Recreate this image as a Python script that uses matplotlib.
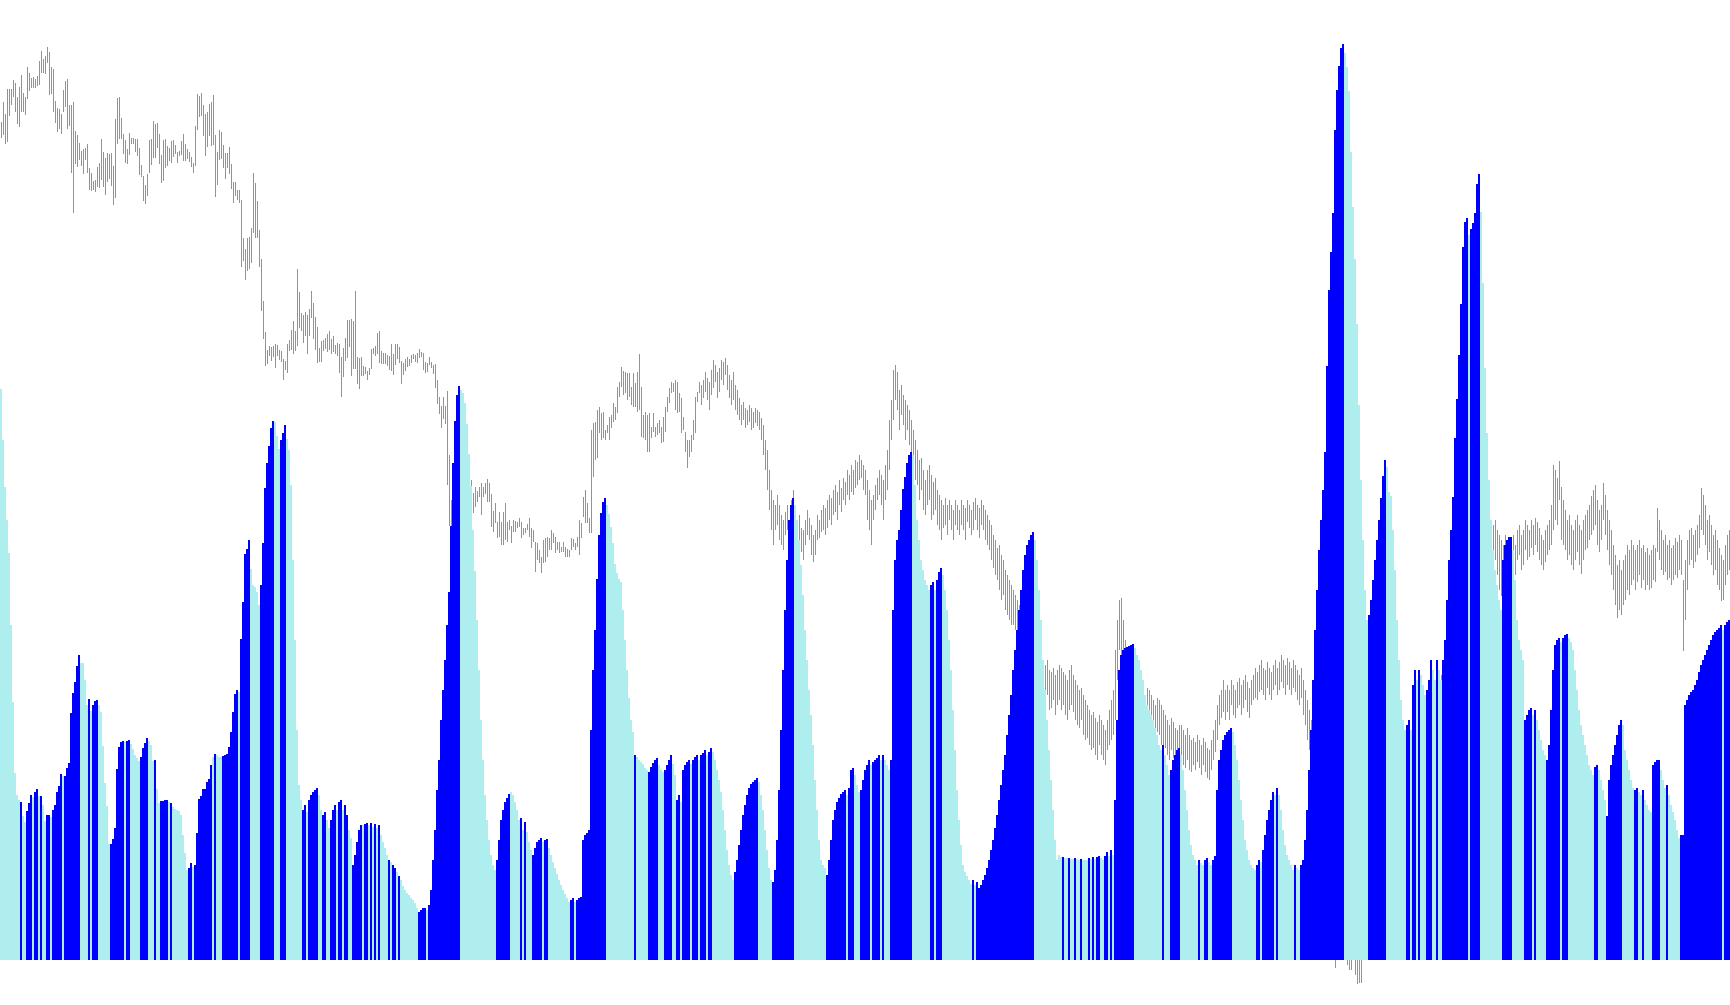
import numpy as np
import matplotlib
matplotlib.use("Agg")
import matplotlib.pyplot as plt

# histogram heights (one per bar, 865 bars)
hist_h = [
    571, 520, 473, 440, 407, 335, 258, 187, 165, 160, 158, 144, 138, 149, 157, 165, 163, 168, 171, 164,
    164, 155, 139, 145, 145, 143, 150, 155, 168, 174, 186, 184, 184, 192, 197, 247, 267, 278, 294, 305,
    297, 297, 280, 255, 261, 249, 255, 259, 260, 255, 248, 214, 177, 154, 116, 116, 121, 132, 191, 213,
    218, 219, 218, 219, 220, 216, 211, 205, 202, 199, 203, 212, 217, 222, 219, 215, 199, 200, 171, 157,
    159, 159, 160, 160, 158, 157, 153, 151, 150, 149, 145, 125, 107, 90, 92, 97, 93, 95, 127, 161,
    164, 171, 171, 178, 181, 195, 203, 206, 205, 203, 203, 204, 205, 206, 213, 228, 248, 266, 270, 268,
    321, 358, 406, 411, 420, 391, 375, 373, 368, 355, 375, 417, 472, 497, 514, 532, 539, 538, 524, 511,
    520, 527, 535, 521, 510, 475, 400, 320, 230, 175, 160, 150, 155, 148, 160, 165, 168, 170, 172, 165,
    150, 145, 148, 140, 132, 140, 150, 155, 150, 158, 160, 150, 155, 145, 130, 122, 95, 105, 118, 130,
    135, 135, 136, 137, 135, 137, 133, 136, 132, 135, 125, 118, 112, 105, 100, 98, 95, 92, 88, 84,
    80, 74, 70, 67, 65, 62, 60, 57, 52, 48, 50, 52, 52, 50, 55, 70, 100, 130, 170, 200,
    240, 270, 300, 335, 368, 434, 497, 539, 565, 574, 570, 567, 557, 536, 506, 474, 430, 389, 340, 290,
    240, 200, 165, 140, 120, 105, 95, 90, 100, 120, 140, 150, 158, 162, 166, 168, 165, 158, 150, 140,
    142, 130, 138, 128, 118, 110, 105, 112, 118, 120, 122, 118, 120, 121, 112, 105, 98, 92, 86, 80,
    75, 70, 66, 62, 58, 60, 62, 58, 60, 62, 63, 120, 125, 127, 130, 230, 290, 330, 381, 425,
    447, 458, 462, 455, 446, 433, 417, 396, 387, 381, 378, 350, 320, 290, 262, 240, 228, 205, 203, 200,
    198, 196, 192, 190, 188, 193, 197, 200, 202, 195, 190, 188, 190, 195, 200, 205, 196, 185, 160, 165,
    158, 190, 195, 198, 200, 196, 200, 203, 205, 200, 205, 207, 210, 205, 208, 212, 208, 200, 190, 180,
    168, 150, 130, 110, 95, 85, 80, 88, 100, 115, 130, 145, 155, 165, 172, 176, 178, 180, 182, 178,
    165, 150, 130, 110, 92, 80, 78, 90, 120, 170, 230, 290, 350, 400, 440, 455, 462, 455, 440, 420,
    395, 365, 330, 300, 270, 245, 215, 180, 150, 120, 100, 95, 92, 85, 100, 120, 140, 150, 158, 162,
    166, 168, 170, 165, 172, 190, 192, 185, 175, 168, 170, 180, 190, 195, 200, 195, 198, 200, 202, 205,
    200, 205, 200, 195, 190, 200, 350, 400, 420, 430, 450, 471, 483, 497, 505, 508, 505, 475, 440, 420,
    400, 390, 380, 375, 370, 375, 378, 370, 380, 388, 392, 385, 370, 350, 320, 290, 250, 210, 170, 140,
    115, 95, 88, 84, 80, 76, 80, 75, 78, 72, 75, 80, 85, 92, 100, 110, 120, 132, 145, 160,
    175, 190, 205, 225, 245, 265, 290, 310, 330, 350, 370, 390, 405, 415, 420, 425, 428, 420, 400, 370,
    340, 300, 270, 240, 210, 180, 150, 120, 100, 105, 103, 103, 102, 102, 102, 101, 101, 102, 101, 100,
    101, 100, 100, 100, 102, 101, 103, 101, 103, 104, 102, 100, 104, 108, 104, 110, 105, 160, 240, 290,
    305, 310, 312, 313, 314, 315, 316, 312, 305, 300, 290, 280, 265, 255, 250, 245, 240, 232, 225, 215,
    210, 215, 205, 195, 185, 190, 200, 205, 210, 212, 205, 190, 170, 150, 130, 115, 105, 100, 95, 100,
    97, 95, 100, 102, 98, 95, 100, 104, 170, 200, 210, 220, 225, 228, 230, 232, 228, 215, 200, 180,
    160, 140, 120, 110, 100, 95, 92, 90, 95, 100, 98, 110, 125, 140, 150, 160, 168, 165, 172, 165,
    150, 130, 115, 105, 100, 95, 90, 95, 92, 90, 95, 100, 120, 150, 190, 230, 280, 330, 370, 410,
    440, 470, 508, 594, 670, 708, 747, 830, 870, 894, 912, 916, 907, 893, 869, 808, 753, 701, 636, 555,
    480, 420, 370, 340, 345, 360, 380, 400, 420, 440, 462, 484, 500, 493, 468, 464, 430, 390, 340, 300,
    260, 240, 230, 235, 240, 230, 275, 290, 280, 290, 285, 275, 265, 270, 280, 300, 290, 280, 300, 290,
    280, 300, 320, 360, 400, 430, 463, 522, 561, 605, 656, 713, 738, 742, 725, 731, 737, 747, 776, 786,
    748, 677, 592, 527, 480, 440, 410, 390, 375, 360, 350, 400, 415, 420, 423, 423, 410, 380, 340, 320,
    310, 300, 240, 245, 250, 252, 245, 250, 240, 230, 220, 210, 205, 200, 215, 250, 290, 315, 320, 322,
    318, 322, 325, 326, 322, 318, 310, 290, 270, 250, 235, 225, 215, 205, 195, 190, 185, 193, 195, 190,
    180, 170, 160, 144, 180, 195, 205, 215, 225, 235, 240, 235, 210, 200, 190, 180, 172, 170, 172, 168,
    165, 170, 160, 155, 150, 148, 195, 198, 200, 200, 190, 180, 172, 175, 165, 155, 148, 140, 130, 122,
    125, 125, 255, 260, 265, 268, 270, 275, 280, 288, 295, 300, 305, 310, 315, 320, 325, 328, 330, 332,
    335, 330, 335, 338, 340,
]

# B = rising (blue), L = falling (pale turquoise)
hist_dir = (
    "LLLLLLLLLL" "BLLBBBLBBL" "BLLBBLBBBB" "BLBBBBBBBB" "LLLLBLBBBL"
    "LLLLLBBBBB" "BBLBBLLLLL" "BBBBLLLBLL" "BBBBLBLLLL" "LLLLBBLBBB"
    "BBBBBBLBLL" "LBBBBBBBBL" "BBBBBLLLLL" "BBBBBBBLLL" "BBBLLLLLLL"
    "LBBLBBBBBL" "LBBLLBBBLB" "BLBBLLBBBB" "BLBBLBLBLB" "LLLLBLBBLB"
    "LLLLLLLLLB" "BBBLBBBBBB" "BBBBBBBBBB" "LLLLLLLLLL" "LLLLLLLLBB"
    "BBBBBLLLLL" "BLBLLLBBBB" "BLBBLLLLLL" "LLLLLBBLBB" "BBBBBBBBBB"
    "BBBLLLLLLL" "LLLLLLLBLL" "LLLLBBBBBL" "LLBBBBLLBB" "LBBBBLBBBL"
    "BBBLBBLLLL" "LLLLLLLBBB" "BBBBBBBBBL" "LLLLLLBBBB" "BBBBBBBLLL"
    "LLLLLLLLLL" "LLLBBBBBBB" "BBBLBBBLLL" "BBBBBLBBBB" "LBLLLBBBBB"
    "BBBBBBLLLL" "LLLLLBBLBB" "BLLLLLLLLL" "LLLLLLBLBB" "BBBBBBBBBB"
    "BBBBBBBBBB" "BBBBBBBLLL" "LLLLLLLLLL" "LBLLBLLBLL" "BLLLBLBLBB"
    "LLBBLBLBBB" "BBBBBBBLLL" "LLLLLLLLLL" "LBLLLBBBBB" "LLLLLLLLLB"
    "LLBBLLBBBB" "BBBBBBLLLL" "LLLLLLLLBB" "LBBBBBBLBL" "LLLLLLLBLL"
    "BBBBBBBBBB" "BBBBBBBBBB" "BBLLLLLLLL" "LLLLBBBBBB" "BBBLLLLLLL"
    "LLLBBLBBLB" "LLLBBBLLBL" "LBBBBBBBBB" "BBBBLBBBBB" "LLLLLLLLLL"
    "LBBBBBLLLL" "LLBBBBLBLL" "LLLBBBBBBB" "LBBBLLLLLL" "LLLLLLLBBL"
    "LLLBBBBBBB" "BLLLLLLBBL" "LBLLLLBBBB" "LLLBLLLLLL" "BBBBBBBBBB"
    "BBBBBBBBBB" "BLBBB"
)

# price bars: top and bottom of each bar (price scale runs downward)
price_top = [
    122, 102, 114, 89, 89, 89, 80, 83, 97, 87, 75, 93, 97, 67, 73, 78, 77, 79, 76, 61,
    51, 59, 56, 47, 52, 67, 69, 101, 108, 109, 114, 90, 81, 79, 105, 105, 102, 131, 135, 143,
    151, 149, 148, 144, 168, 173, 181, 180, 167, 163, 139, 152, 158, 153, 154, 153, 166, 119, 98, 97,
    118, 134, 140, 149, 133, 138, 138, 139, 139, 148, 165, 176, 185, 174, 140, 139, 121, 124, 123, 134,
    155, 140, 139, 146, 148, 141, 140, 145, 152, 151, 141, 134, 144, 149, 152, 157, 163, 126, 94, 96,
    93, 105, 114, 112, 104, 102, 95, 135, 152, 130, 132, 145, 153, 153, 147, 164, 182, 182, 190, 190,
    200, 238, 249, 238, 237, 228, 173, 183, 201, 230, 259, 301, 332, 350, 346, 347, 346, 344, 345, 350,
    351, 359, 361, 344, 340, 330, 321, 331, 269, 292, 313, 315, 312, 315, 309, 291, 303, 317, 327, 348,
    341, 340, 338, 334, 331, 339, 336, 345, 343, 344, 357, 348, 338, 320, 320, 319, 321, 291, 357, 358,
    357, 366, 367, 371, 368, 349, 348, 346, 333, 331, 351, 353, 353, 355, 356, 344, 354, 344, 344, 347,
    361, 363, 359, 357, 359, 355, 354, 355, 353, 349, 352, 353, 362, 363, 357, 362, 365, 364, 380, 397,
    406, 397, 406, 391, 455, 500, 480, 470, 480, 470, 460, 465, 470, 475, 470, 480, 493, 487, 491, 487,
    483, 487, 483, 479, 483, 494, 511, 503, 522, 512, 522, 512, 503, 522, 520, 526, 520, 521, 522, 518,
    522, 528, 528, 524, 518, 528, 530, 542, 543, 550, 557, 540, 538, 537, 538, 530, 533, 537, 542, 542,
    547, 542, 547, 549, 550, 538, 539, 543, 537, 520, 523, 497, 490, 503, 518, 430, 423, 422, 410, 407,
    413, 412, 430, 425, 417, 415, 403, 407, 387, 382, 367, 371, 372, 373, 373, 387, 373, 383, 372, 354,
    387, 415, 412, 415, 413, 427, 413, 427, 423, 420, 427, 417, 407, 397, 388, 382, 383, 380, 382, 393,
    398, 417, 432, 440, 440, 435, 420, 397, 392, 382, 385, 380, 372, 378, 382, 370, 360, 365, 372, 368,
    360, 362, 358, 365, 375, 380, 372, 385, 390, 398, 405, 402, 408, 410, 405, 408, 412, 408, 410, 412,
    418, 425, 440, 450, 470, 490, 500, 505, 495, 505, 515, 520, 512, 505, 520, 500, 490, 520, 525, 515,
    528, 530, 520, 510, 518, 525, 535, 530, 515, 520, 510, 505, 508, 500, 495, 498, 490, 485, 492, 480,
    488, 478, 482, 470, 475, 465, 470, 460, 462, 455, 460, 465, 470, 480, 490, 500, 495, 485, 478, 470,
    475, 480, 465, 450, 420, 400, 370, 365, 372, 390, 385, 395, 400, 405, 410, 420, 430, 440, 450, 460,
    458, 470, 480, 470, 465, 475, 482, 478, 490, 495, 500, 505, 498, 505, 500, 505, 510, 500, 505, 510,
    500, 505, 508, 500, 505, 510, 502, 498, 505, 508, 500, 505, 510, 515, 520, 525, 535, 540, 548, 545,
    555, 560, 570, 575, 580, 585, 590, 595, 600, 605, 610, 615, 620, 625, 630, 635, 640, 645, 640, 650,
    655, 660, 665, 660, 670, 672, 668, 675, 670, 665, 668, 672, 675, 680, 670, 665, 675, 680, 685, 690,
    688, 695, 700, 705, 710, 715, 712, 718, 722, 715, 720, 725, 730, 720, 710, 700, 690, 650, 620, 600,
    598, 620, 640, 650, 655, 660, 670, 675, 680, 678, 685, 690, 695, 688, 690, 695, 700, 705, 698, 700,
    705, 710, 715, 720, 725, 718, 722, 728, 730, 725, 725, 730, 735, 728, 735, 740, 738, 742, 735, 740,
    745, 738, 742, 748, 750, 740, 730, 720, 705, 695, 690, 680, 690, 685, 690, 680, 685, 690, 682, 678,
    685, 680, 675, 682, 688, 680, 675, 668, 672, 665, 660, 668, 670, 662, 668, 672, 665, 660, 668, 662,
    655, 660, 665, 658, 662, 668, 660, 665, 670, 675, 668, 680, 690, 700, 710, 720, 735, 745, 760, 780,
    800, 820, 840, 850, 860, 870, 880, 900, 905, 910, 915, 912, 918, 920, 925, 928, 920, 930, 935, 938,
    940, 930, 920, 910, 900, 890, 880, 870, 860, 850, 840, 830, 820, 810, 800, 790, 780, 770, 760, 750,
    740, 735, 730, 735, 738, 740, 730, 725, 720, 715, 712, 710, 705, 700, 695, 690, 688, 685, 680, 678,
    675, 670, 660, 650, 640, 630, 610, 605, 600, 595, 590, 585, 580, 578, 575, 570, 568, 565, 560, 558,
    555, 552, 548, 545, 540, 530, 525, 520, 530, 535, 540, 545, 535, 540, 545, 540, 535, 545, 530, 525,
    535, 530, 520, 525, 530, 520, 525, 518, 522, 528, 535, 540, 530, 525, 520, 505, 465, 470, 478, 461,
    487, 500, 510, 520, 515, 525, 530, 520, 515, 525, 530, 520, 515, 510, 505, 496, 490, 485, 500, 510,
    505, 483, 495, 510, 520, 530, 545, 555, 565, 560, 570, 560, 555, 545, 550, 540, 545, 550, 545, 540,
    548, 545, 552, 548, 555, 550, 545, 548, 508, 520, 530, 540, 535, 545, 540, 548, 545, 538, 542, 535,
    540, 580, 560, 540, 530, 528, 535, 530, 525, 515, 488, 495, 505, 520, 515, 525, 535, 530, 540, 548,
    555, 560, 545, 535, 530,
]

price_bot = [
    138, 135, 144, 142, 116, 105, 97, 112, 124, 127, 112, 112, 115, 99, 91, 88, 88, 88, 86, 85,
    73, 73, 74, 63, 95, 94, 112, 123, 132, 129, 134, 112, 107, 129, 126, 173, 213, 164, 167, 160,
    166, 174, 160, 173, 190, 191, 190, 192, 187, 188, 180, 187, 195, 182, 179, 186, 205, 198, 144, 139,
    139, 154, 163, 164, 155, 144, 144, 152, 156, 175, 177, 201, 204, 196, 173, 165, 158, 158, 148, 164,
    183, 181, 168, 166, 161, 163, 157, 154, 163, 156, 155, 161, 161, 159, 162, 167, 173, 166, 130, 117,
    116, 136, 156, 147, 136, 146, 145, 197, 185, 160, 159, 168, 179, 168, 174, 189, 203, 196, 200, 203,
    267, 261, 280, 271, 269, 263, 233, 238, 238, 267, 311, 339, 366, 364, 356, 361, 357, 368, 356, 360,
    362, 380, 370, 373, 351, 350, 354, 351, 346, 328, 331, 343, 336, 354, 336, 318, 339, 350, 363, 362,
    362, 351, 349, 352, 350, 354, 352, 354, 356, 373, 397, 377, 361, 358, 347, 376, 369, 369, 384, 389,
    376, 376, 374, 380, 375, 369, 354, 356, 354, 363, 364, 364, 364, 366, 370, 371, 375, 365, 359, 363,
    384, 375, 371, 367, 366, 363, 359, 362, 363, 358, 357, 370, 373, 372, 365, 368, 374, 388, 404, 414,
    428, 419, 424, 485, 526, 526, 530, 520, 510, 500, 495, 500, 505, 500, 495, 505, 513, 507, 502, 497,
    515, 497, 494, 502, 502, 527, 532, 523, 538, 537, 545, 545, 540, 542, 530, 543, 532, 532, 528, 527,
    538, 535, 533, 530, 537, 548, 542, 572, 560, 563, 573, 563, 562, 557, 550, 550, 543, 553, 550, 553,
    552, 552, 557, 557, 557, 550, 547, 550, 547, 555, 538, 517, 523, 523, 533, 533, 477, 460, 458, 433,
    440, 438, 440, 433, 440, 428, 422, 420, 413, 397, 387, 395, 393, 400, 397, 405, 407, 407, 412, 410,
    437, 438, 440, 452, 452, 438, 432, 437, 435, 433, 443, 442, 432, 412, 403, 393, 392, 410, 413, 412,
    433, 430, 452, 468, 457, 452, 440, 433, 402, 393, 405, 398, 392, 400, 410, 395, 388, 382, 398, 392,
    380, 385, 375, 390, 398, 405, 400, 410, 415, 420, 425, 420, 428, 425, 422, 430, 428, 423, 426, 430,
    440, 455, 470, 490, 510, 530, 545, 530, 525, 540, 545, 550, 535, 530, 548, 540, 520, 548, 545, 540,
    552, 560, 545, 535, 540, 555, 562, 555, 540, 538, 532, 530, 535, 528, 520, 525, 515, 512, 520, 505,
    512, 500, 505, 495, 500, 492, 495, 488, 485, 480, 478, 490, 495, 520, 530, 545, 520, 510, 500, 495,
    505, 520, 500, 490, 470, 440, 420, 400, 410, 430, 415, 425, 440, 430, 445, 460, 470, 480, 485, 500,
    490, 510, 515, 505, 500, 520, 515, 510, 525, 530, 540, 528, 525, 535, 520, 530, 540, 525, 530, 535,
    525, 530, 540, 522, 528, 535, 530, 520, 530, 538, 525, 530, 540, 545, 550, 560, 568, 575, 580, 590,
    600, 595, 610, 615, 620, 625, 625, 630, 640, 645, 650, 655, 660, 665, 670, 670, 675, 680, 675, 690,
    695, 700, 700, 695, 710, 708, 700, 715, 705, 700, 710, 705, 715, 720, 710, 705, 712, 720, 725, 728,
    720, 735, 740, 738, 745, 750, 748, 755, 760, 745, 755, 760, 765, 750, 745, 740, 735, 720, 680, 650,
    660, 670, 690, 700, 705, 710, 715, 720, 725, 718, 730, 725, 735, 722, 730, 728, 738, 740, 732, 735,
    745, 750, 748, 755, 760, 750, 758, 765, 768, 762, 760, 765, 768, 760, 770, 772, 765, 770, 762, 768,
    775, 765, 772, 778, 780, 770, 760, 752, 740, 725, 718, 712, 720, 712, 720, 705, 715, 718, 708, 705,
    715, 708, 700, 712, 718, 705, 700, 698, 700, 692, 690, 695, 700, 688, 695, 700, 690, 685, 695, 690,
    682, 688, 695, 685, 690, 695, 688, 692, 700, 705, 698, 715, 725, 740, 750, 760, 775, 790, 810, 830,
    850, 870, 880, 900, 910, 920, 930, 968, 955, 958, 958, 958, 957, 965, 970, 970, 956, 975, 984, 983,
    983, 960, 955, 945, 935, 925, 915, 905, 900, 890, 880, 870, 860, 850, 840, 830, 820, 810, 800, 790,
    780, 775, 770, 770, 772, 775, 765, 760, 755, 750, 748, 745, 740, 738, 735, 730, 725, 720, 718, 712,
    710, 705, 700, 690, 680, 670, 650, 645, 640, 635, 630, 625, 620, 615, 612, 610, 605, 602, 600, 598,
    595, 590, 588, 585, 580, 570, 565, 560, 575, 590, 596, 580, 570, 575, 580, 572, 565, 575, 560, 555,
    570, 565, 550, 560, 557, 548, 555, 545, 552, 560, 565, 570, 562, 555, 550, 545, 530, 520, 525, 500,
    540, 545, 550, 560, 555, 565, 570, 560, 552, 565, 574, 560, 550, 548, 540, 535, 530, 525, 545, 552,
    540, 520, 535, 550, 565, 575, 590, 605, 618, 610, 615, 605, 600, 590, 595, 585, 580, 590, 582, 575,
    588, 580, 590, 585, 590, 588, 580, 582, 552, 560, 570, 575, 572, 580, 578, 585, 580, 575, 578, 570,
    575, 651, 620, 590, 565, 560, 568, 562, 555, 548, 530, 535, 545, 560, 552, 565, 575, 570, 585, 590,
    601, 600, 585, 575, 570,
]

colors = {"B": "#0000ff", "L": "#afeeee"}
n = len(hist_h)
idx = np.arange(n)
top = np.array(price_top)
bot = np.array(price_bot)

fig = plt.figure(figsize=(17.3, 10.05), dpi=100)
fig.patch.set_facecolor("white")

# price bars go behind the histogram
ax_p = fig.add_axes([0, 0, 1, 1])
ax_h = fig.add_axes([0, 0, 1, 1])
ax_h.patch.set_visible(False)
ax_p.set_zorder(1)
ax_h.set_zorder(2)

# thin high-low bars, one pixel wide, in the right half of each slot
ax_p.bar(idx + 0.5, bot - top, bottom=top, width=0.5, align="edge",
         color="#1ee61e", linewidth=0, antialiased=False)
ax_p.set_xlim(0, n)
ax_p.set_ylim(1005, 0)
ax_p.axis("off")

ax_h.bar(idx, hist_h, width=1.0, align="edge",
         color=[colors[c] for c in hist_dir], linewidth=0, antialiased=False)
ax_h.set_xlim(0, n)
ax_h.set_ylim(-45, 960)
ax_h.axis("off")

fig.savefig("out.png", dpi=100, facecolor="white")
